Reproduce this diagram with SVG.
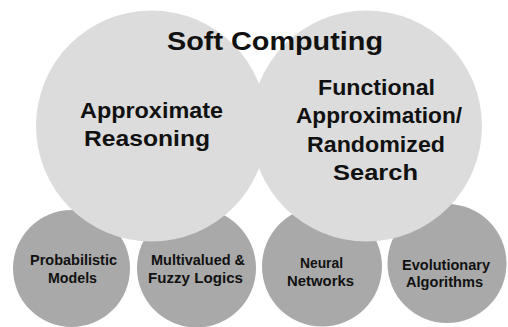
<svg xmlns="http://www.w3.org/2000/svg" width="508" height="327" viewBox="0 0 508 327">
<style>
.big{fill:#dcdcdc}
.small{fill:#a9a9a9}
text{font-family:"Liberation Sans",Arial,sans-serif;font-weight:bold;fill:#111;text-anchor:middle}
.t1{font-size:26.5px}
.t2{font-size:22px}
.t3{font-size:15px}
</style>
<rect width="508" height="327" fill="#fff"/>
<g id="connectors"/>
<g id="probabilistic"><circle class="small" cx="71.5" cy="268.5" r="58.5"/></g>
<g id="fuzzy"><circle class="small" cx="196.5" cy="268" r="59.5"/></g>
<g id="neural"><circle class="small" cx="322" cy="266.5" r="60"/></g>
<g id="evolutionary"><circle class="small" cx="447" cy="263.5" r="59.5"/></g>
<g id="approx-reasoning"><circle class="big" cx="151.5" cy="126" r="115.5"/></g>
<g id="functional-approx"><circle class="big" cx="366.5" cy="126" r="115.5"/></g>
<g id="labels">
<text class="t1" x="275" y="50" textLength="216" lengthAdjust="spacingAndGlyphs">Soft Computing</text>
<text class="t2" x="151.5" y="118" textLength="143" lengthAdjust="spacingAndGlyphs">Approximate</text>
<text class="t2" x="147" y="146" textLength="126" lengthAdjust="spacingAndGlyphs">Reasoning</text>
<text class="t2" x="376.5" y="95" textLength="117" lengthAdjust="spacingAndGlyphs">Functional</text>
<text class="t2" x="379" y="123" textLength="166" lengthAdjust="spacingAndGlyphs">Approximation/</text>
<text class="t2" x="376" y="152" textLength="138" lengthAdjust="spacingAndGlyphs">Randomized</text>
<text class="t2" x="375.5" y="180" textLength="85" lengthAdjust="spacingAndGlyphs">Search</text>
<text class="t3" x="73.5" y="265" textLength="87" lengthAdjust="spacingAndGlyphs">Probabilistic</text>
<text class="t3" x="72.5" y="283" textLength="49" lengthAdjust="spacingAndGlyphs">Models</text>
<text class="t3" x="198" y="265" textLength="94" lengthAdjust="spacingAndGlyphs">Multivalued &amp;</text>
<text class="t3" x="195.5" y="283" textLength="95" lengthAdjust="spacingAndGlyphs">Fuzzy Logics</text>
<text class="t3" x="321.5" y="268" textLength="43" lengthAdjust="spacingAndGlyphs">Neural</text>
<text class="t3" x="320.5" y="286" textLength="67" lengthAdjust="spacingAndGlyphs">Networks</text>
<text class="t3" x="446" y="270" textLength="88" lengthAdjust="spacingAndGlyphs">Evolutionary</text>
<text class="t3" x="444.5" y="287" textLength="77" lengthAdjust="spacingAndGlyphs">Algorithms</text>
</g>
</svg>
